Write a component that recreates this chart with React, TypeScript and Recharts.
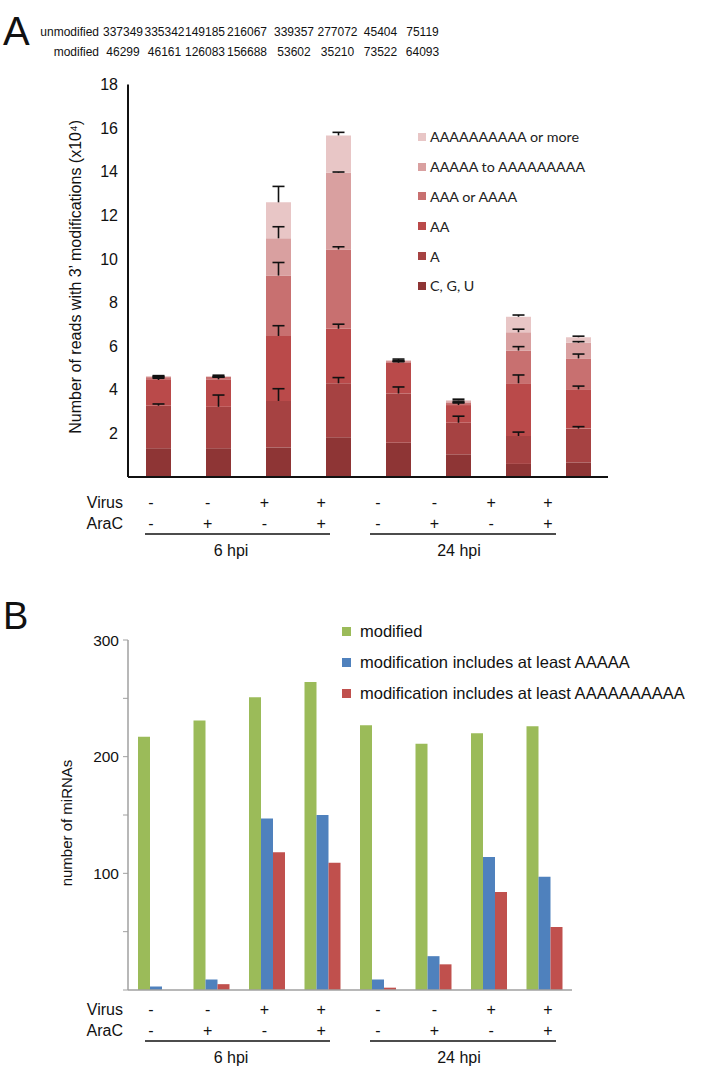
import React from "react";
import { BarChart, Bar, XAxis, YAxis, ErrorBar, Legend } from "recharts";

// conditions (same order in both panels)
const virus = ["-", "-", "+", "+", "-", "-", "+", "+"];
const araC = ["-", "+", "-", "+", "-", "+", "-", "+"];
const timepoints = ["6 hpi", "24 hpi"];

// read counts shown above panel A
const unmodifiedCounts = [337349, 335342, 149185, 216067, 339357, 277072, 45404, 75119];
const modifiedCounts = [46299, 46161, 126083, 156688, 53602, 35210, 73522, 64093];

// panel A: reads with 3' modifications (x10^4), one array per segment
const cguReads = [1.32, 1.32, 1.36, 1.82, 1.57, 1.04, 0.6, 0.67];
const aReads = [1.95, 1.9, 2.13, 2.48, 2.26, 1.45, 1.28, 1.55];
const aaReads = [1.18, 1.26, 2.98, 2.5, 1.41, 0.81, 2.42, 1.8];
const aaaReads = [0.13, 0.11, 2.77, 3.64, 0.07, 0.12, 1.5, 1.42];
const a5Reads = [0.03, 0.02, 1.71, 3.52, 0.03, 0.06, 0.84, 0.72];
const a10Reads = [0.02, 0.01, 1.65, 1.71, 0.02, 0.04, 0.71, 0.25];

// upper error bars per segment
const aErr = [0.08, 0.54, 0.56, 0.26, 0.3, 0.3, 0.18, 0.09];
const aaErr = [0.08, 0.1, 0.47, 0.21, 0.05, 0.1, 0.38, 0.15];
const aaaErr = [0, 0, 0.6, 0.12, 0, 0, 0.18, 0.2];
const a5Err = [0, 0, 0.53, 0.03, 0, 0, 0.14, 0.05];
const a10Err = [0.02, 0.05, 0.73, 0.14, 0.05, 0.05, 0.08, 0.05];

const readsTicks = [2, 4, 6, 8, 10, 12, 14, 16, 18];

const segmentNames = ["C, G, U", "A", "AA", "AAA or AAAA", "AAAAA to AAAAAAAAA", "AAAAAAAAAA or more"];
const segmentColors = ["#8E3535", "#A64242", "#BA4A4A", "#C87070", "#D9A0A0", "#E8C6C6"];

// panel B: number of miRNAs
const modifiedMirnas = [217, 231, 251, 264, 227, 211, 220, 226];
const atLeastA5 = [3, 9, 147, 150, 9, 29, 114, 97];
const atLeastA10 = [0, 5, 118, 109, 2, 22, 84, 54];

const mirnaTicks = [0, 50, 100, 150, 200, 250, 300];

const mirnaNames = ["modified", "modification includes at least AAAAA", "modification includes at least AAAAAAAAAA"];
const mirnaColors = ["#9BBB59", "#4F81BD", "#C0504D"];

const ARIAL = '"Liberation Sans", Arial, sans-serif';

const readsData = virus.map((v, i) => ({
  name: `${timepoints[i < 4 ? 0 : 1]} V${v} AraC${araC[i]}`,
  cgu: cguReads[i],
  a: aReads[i],
  aa: aaReads[i],
  aaa: aaaReads[i],
  a5: a5Reads[i],
  a10: a10Reads[i],
  aErr: [0, aErr[i]],
  aaErr: [0, aaErr[i]],
  aaaErr: [0, aaaErr[i]],
  a5Err: [0, a5Err[i]],
  a10Err: [0, a10Err[i]],
}));

const mirnaData = virus.map((v, i) => ({
  name: `${timepoints[i < 4 ? 0 : 1]} V${v} AraC${araC[i]}`,
  modified: modifiedMirnas[i],
  a5: atLeastA5[i],
  a10: atLeastA10[i],
}));

const yTitle = (text: string, dx: number, dy: number, size: number) => (props: any) => {
  const { x, y, width, height } = props.viewBox;
  const cx = x + width - dx;
  const cy = y + height / 2 + dy;
  return (
    <text
      x={cx}
      y={cy}
      transform={`rotate(-90 ${cx} ${cy})`}
      textAnchor="middle"
      dominantBaseline="central"
      fontFamily={ARIAL}
      fontSize={size}
      fill="#111"
    >
      {text}
    </text>
  );
};

const legendA = () => (
  <div style={{ fontFamily: "Lato, sans-serif", fontSize: 14.3, color: "#222" }}>
    {segmentNames
      .map((n, i) => ({ n, c: segmentColors[i] }))
      .reverse()
      .map((it) => (
        <div key={it.n} style={{ display: "flex", alignItems: "center", height: 29.8 }}>
          <span style={{ width: 8, height: 8, background: it.c, marginRight: 4 }} />
          <span>{it.n}</span>
        </div>
      ))}
  </div>
);

const legendB = () => (
  <div style={{ fontFamily: ARIAL, fontSize: 16.5, color: "#111" }}>
    {mirnaNames.map((n, i) => (
      <div key={n} style={{ display: "flex", alignItems: "center", height: 31 }}>
        <span style={{ width: 9, height: 9, background: mirnaColors[i], marginRight: 9 }} />
        <span>{n}</span>
      </div>
    ))}
  </div>
);

function ReadsChart() {
  const eb = { width: 6, strokeWidth: 1.6, stroke: "#111", direction: "y" as const };
  const keys = ["cgu", "a", "aa", "aaa", "a5", "a10"];
  return (
    <div style={{ position: "absolute", left: 0, top: 0 }}>
      <BarChart
        width={713}
        height={510}
        data={readsData}
        margin={{ top: 84.6, right: 105, bottom: 13, left: 68 }}
        barSize={25}
      >
        <XAxis dataKey="name" tick={false} tickLine={false} height={20} axisLine={{ stroke: "#111", strokeWidth: 2 }} />
        <YAxis
          width={60}
          domain={[0, 18]}
          ticks={readsTicks}
          interval={0}
          tickLine={false}
          tickMargin={4}
          axisLine={{ stroke: "#111", strokeWidth: 2 }}
          tick={{ fill: "#111", fontSize: 16, fontFamily: ARIAL }}
          label={yTitle("Number of reads with 3\u2019 modifications (x10\u2074)", 52, -4, 16)}
        />
        <Legend
          layout="vertical"
          align="center"
          verticalAlign="middle"
          content={legendA}
          wrapperStyle={{ top: 122, left: 418, width: 200, height: 180 }}
        />
        {keys.map((k, i) => (
          <Bar key={k} dataKey={k} name={segmentNames[i]} stackId="r" fill={segmentColors[i]} isAnimationActive={false}>
            {i > 0 && <ErrorBar dataKey={k + "Err"} {...eb} />}
          </Bar>
        ))}
      </BarChart>
    </div>
  );
}

function MirnaChart() {
  const keys = ["modified", "a5", "a10"];
  return (
    <div style={{ position: "absolute", left: 0, top: 600 }}>
      <BarChart
        width={713}
        height={486}
        data={mirnaData}
        margin={{ top: 40, right: 141, bottom: 76, left: 68 }}
        barSize={12}
        barGap={0}
      >
        <XAxis dataKey="name" tick={false} tickLine={false} height={20} axisLine={{ stroke: "#a0a0a0", strokeWidth: 1.5 }} />
        <YAxis
          width={60}
          domain={[0, 300]}
          ticks={mirnaTicks}
          interval={0}
          tickSize={5}
          tickMargin={4}
          tickLine={{ stroke: "#a0a0a0" }}
          axisLine={{ stroke: "#a0a0a0", strokeWidth: 1.5 }}
          tickFormatter={(v: number) => (v > 0 && v % 100 === 0 ? String(v) : "")}
          tick={{ fill: "#111", fontSize: 15.5, fontFamily: ARIAL }}
          label={yTitle("number of miRNAs", 62, 8, 15)}
        />
        <Legend
          layout="vertical"
          align="center"
          verticalAlign="middle"
          content={legendB}
          wrapperStyle={{ top: 16, left: 342, width: 370, height: 95 }}
        />
        {keys.map((k, i) => (
          <Bar key={k} dataKey={k} name={mirnaNames[i]} fill={mirnaColors[i]} isAnimationActive={false} />
        ))}
      </BarChart>
    </div>
  );
}

// columns of the count table above panel A
const countCols = [123, 164.5, 205, 247, 294, 337.5, 380.5, 422.5];

function ConditionTable({ dy }: { dy: number }) {
  const colX = virus.map((_, i) => 151 + i * 56.7);
  return (
    <g fontFamily={ARIAL} fontSize={16} fill="#111">
      <text x={123} y={508 + dy} textAnchor="end">Virus</text>
      <text x={123} y={529 + dy} textAnchor="end">AraC</text>
      {virus.map((v, i) => (
        <text key={"v" + i} x={colX[i]} y={508 + dy} textAnchor="middle">{v}</text>
      ))}
      {araC.map((v, i) => (
        <text key={"a" + i} x={colX[i]} y={529 + dy} textAnchor="middle">{v}</text>
      ))}
      <line x1={145} x2={330} y1={534 + dy} y2={534 + dy} stroke="#111" strokeWidth={1.5} />
      <line x1={370} x2={556} y1={534 + dy} y2={534 + dy} stroke="#111" strokeWidth={1.5} />
      <text x={231} y={556 + dy} textAnchor="middle">{timepoints[0]}</text>
      <text x={459} y={556 + dy} textAnchor="middle">{timepoints[1]}</text>
    </g>
  );
}

export default function App() {
  return (
    <div style={{ position: "absolute", left: 0, top: 0, width: 713, height: 1086, background: "#fff" }}>
      <style>{".recharts-errorBar line:nth-of-type(3){display:none}"}</style>
      <ReadsChart />
      <MirnaChart />
      <svg width={713} height={1086} style={{ position: "absolute", left: 0, top: 0, pointerEvents: "none" }}>
        <text x={3} y={45} fontFamily={ARIAL} fontSize={40} fill="#111">A</text>
        <text x={3} y={629} fontFamily={ARIAL} fontSize={38} fill="#111">B</text>
        <g fontFamily={ARIAL} fontSize={12} fill="#111">
          <text x={99} y={36} textAnchor="end">unmodified</text>
          <text x={99} y={56} textAnchor="end">modified</text>
          {unmodifiedCounts.map((c, i) => (
            <text key={"u" + i} x={countCols[i]} y={36} textAnchor="middle">{c}</text>
          ))}
          {modifiedCounts.map((c, i) => (
            <text key={"m" + i} x={countCols[i]} y={56} textAnchor="middle">{c}</text>
          ))}
        </g>
        <ConditionTable dy={0} />
        <ConditionTable dy={507} />
      </svg>
    </div>
  );
}
